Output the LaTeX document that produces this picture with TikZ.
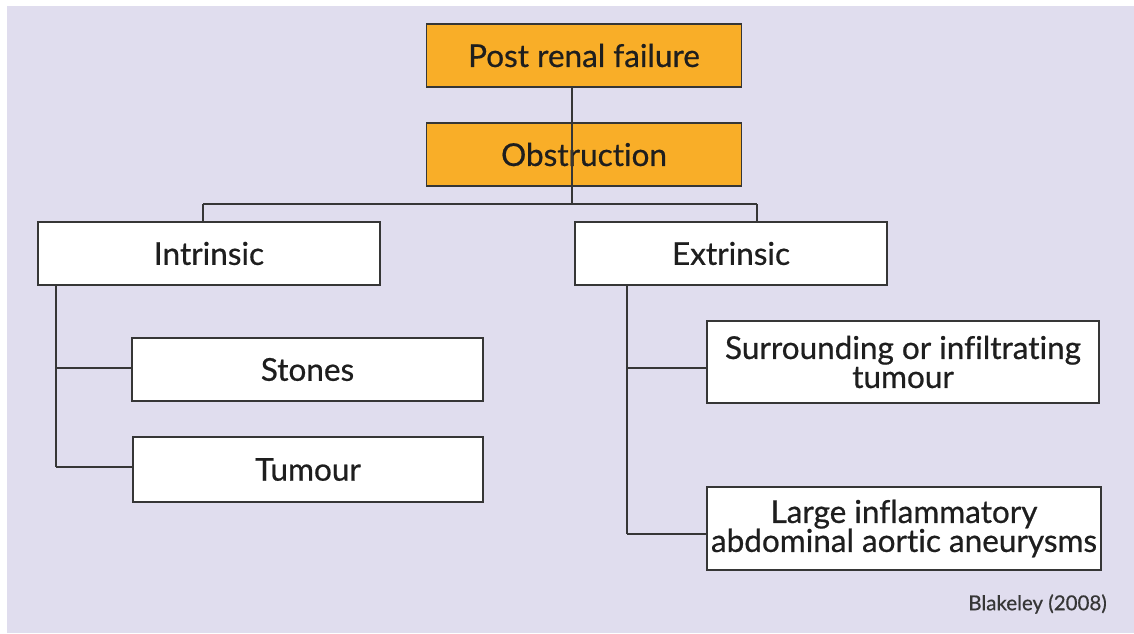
\documentclass[tikz,border=0pt]{standalone}
\usepackage{fontspec}
\setmainfont{Lato}[Ligatures=NoCommon, FakeBold=0.6]
\definecolor{bg}{HTML}{E0DDEE}
\definecolor{orangefill}{HTML}{F9AE28}
\definecolor{linec}{HTML}{363636}
\definecolor{txt}{HTML}{1E1E1E}
\begin{document}
\begin{tikzpicture}[x=1pt,y=-1pt,
  box/.style={draw=linec, line width=1.6pt, rectangle, inner sep=0pt, text=txt,
    font=\fontsize{31.5}{29}\selectfont, align=center},
  obox/.style={box, fill=orangefill},
  wbox/.style={box, fill=white},
  conn/.style={draw=linec, line width=1.6pt}]
\useasboundingbox (0,0) rectangle (1134,633);
\fill[bg] (7,6) rectangle (1134,633);
% top boxes
\node[obox, minimum width=315pt, minimum height=63pt] (pr) at (584,55.5) {Post renal failure};
\node[obox, minimum width=315pt, minimum height=63pt] (obs) at (584,154.5) {Obstruction};
% second level
\node[wbox, minimum width=342pt, minimum height=63pt] (intr) at (209,253.5) {Intrinsic};
\node[wbox, minimum width=312pt, minimum height=63pt] (extr) at (731,253.5) {Extrinsic};
% leaves left
\node[wbox, minimum width=351pt, minimum height=63pt] (stones) at (307.5,369.5) {Stones};
\node[wbox, minimum width=350pt, minimum height=65pt] (tum) at (308,469.5) {Tumour};
% leaves right
\node[wbox, minimum width=392pt, minimum height=82pt] (sur) at (903,362) {Surrounding or infiltrating\\tumour};
\node[wbox, minimum width=394pt, minimum height=83pt] (lar) at (904,528.5) {Large inflammatory\\abdominal aortic aneurysms};
% citation
\node[text=linec, font=\fontsize{20.5}{22}\selectfont, anchor=east, inner sep=0pt] (cite) at (1107,604) {Blakeley (2008)};
% connectors
\coordinate (jc) at (572,204);
\coordinate (jl) at (203,204);
\coordinate (jr) at (757,204);
\draw[conn] (pr.south -| jc) -- (jc);
\draw[conn] (jl) -- (jr);
\draw[conn] (jl) -- (jl |- intr.north);
\draw[conn] (jr) -- (jr |- extr.north);
\coordinate (lt) at (56,285);
\coordinate (lm) at (56,368);
\coordinate (lb) at (56,467);
\draw[conn] (lt) -- (lb);
\draw[conn] (lm) -- (lm -| stones.west);
\draw[conn] (lb) -- (lb -| tum.west);
\coordinate (rt) at (627,285);
\coordinate (rm) at (627,368);
\coordinate (rb) at (627,534);
\draw[conn] (rt) -- (rb);
\draw[conn] (rm) -- (rm -| sur.west);
\draw[conn] (rb) -- (rb -| lar.west);
\end{tikzpicture}
\end{document}
